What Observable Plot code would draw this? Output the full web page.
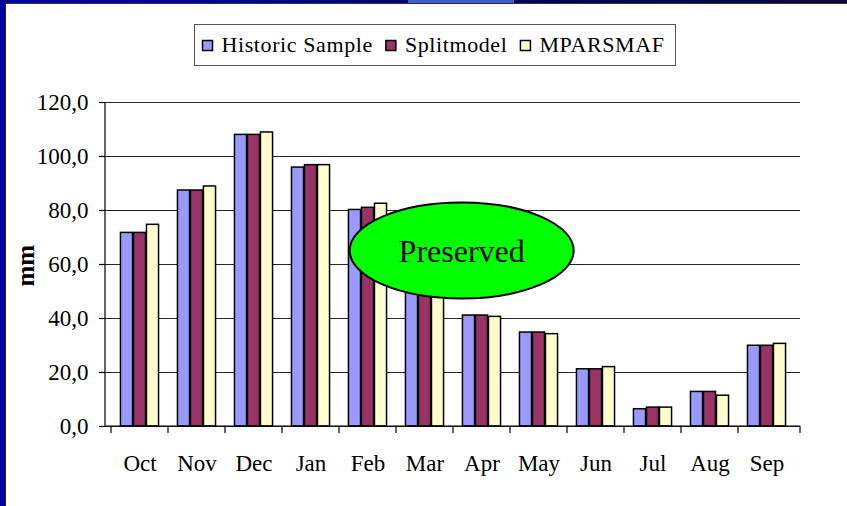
<!DOCTYPE html>
<html><head><meta charset="utf-8">
<script src="https://cdn.jsdelivr.net/npm/d3@7"></script>
<script src="https://cdn.jsdelivr.net/npm/@observablehq/plot@0.6"></script>
<style>
body{margin:0;background:#fff}
#page{position:relative;width:847px;height:506px;overflow:hidden;background:#fff}
#topbar{position:absolute;left:0;top:0;width:847px;height:3px;background:linear-gradient(to right,#0000a8 0%,#00009a 25%,#00006a 55%,#0a0a35 100%);border-bottom:1px solid #333}
#hl{position:absolute;left:408px;top:0;width:106px;height:3px;background:#3b5fd6}
#leftbar{position:absolute;left:0;top:0;width:5px;height:506px;background:#0000a8;border-right:1px solid #222}
#legend{position:absolute;left:194px;top:24px}
#chart{position:absolute;left:0;top:70px}
</style>
</head><body>
<div id="page">
  <div id="topbar"></div><div id="hl"></div><div id="leftbar"></div>
  <div id="legend"></div>
  <div id="chart"></div>
</div>
<script>
const months = ["Oct","Nov","Dec","Jan","Feb","Mar","Apr","May","Jun","Jul","Aug","Sep"];
const historic   = [71.7, 87.4, 108.0, 95.9, 80.2, 63.5, 41.1, 34.8, 21.2, 6.4, 12.8, 29.9];
const splitmodel = [71.7, 87.4, 108.0, 96.8, 81.0, 63.5, 41.1, 34.8, 21.2, 7.0, 12.8, 29.9];
const mparsmaf   = [74.7, 88.9, 108.9, 96.8, 82.5, 63.0, 40.6, 34.2, 22.0, 7.0, 11.4, 30.6];
const seriesNames  = ["Historic Sample", "Splitmodel", "MPARSMAF"];
const seriesColors = ["#9999FF", "#993366", "#FFFFCC"];
const yTicks = [0, 20, 40, 60, 80, 100, 120];
const yLabel = "mm";
const noteText = "Preserved";
const noteMonth = "Apr";
const noteValue = 65;

const seriesValues = [historic, splitmodel, mparsmaf];
const FONT = "Liberation Serif, Times New Roman, serif";

// legend (SVG)
const lw = 482, lh = 42;
const lsvg = d3.select("#legend").append("svg").attr("width", lw).attr("height", lh);
lsvg.append("rect").attr("x", 0.5).attr("y", 0.5).attr("width", lw - 1).attr("height", lh - 1)
  .attr("fill", "#fff").attr("stroke", "#555");
let lx = 8.5;
seriesNames.forEach((name, k) => {
  lsvg.append("rect").attr("x", lx).attr("y", 16.5).attr("width", 10).attr("height", 10)
    .attr("fill", seriesColors[k]).attr("stroke", "#000").attr("stroke-width", 1.5);
  const t = lsvg.append("text").attr("x", lx + 19).attr("y", 27.5).attr("fill", "#000")
    .attr("font-family", FONT).attr("font-size", 22)
    .attr("letter-spacing", 0.6).text(name);
  lx += 19 + t.node().getComputedTextLength() + 13;
});

const W = 847, H = 436, mL = 105, mR = 47, mT = 32, mB = 80;
const step = (W - mL - mR) / months.length;
const barW = 13;
const totalInset = step - barW;

const barMarks = seriesValues.map((vals, k) => {
  const left = totalInset / 2 + (k - 1) * barW;
  return Plot.barY(months, {
    x: d => d,
    y: (d, i) => vals[i],
    fill: seriesColors[k],
    stroke: "#000",
    strokeWidth: 1.5,
    insetLeft: left,
    insetRight: totalInset - left
  });
});

const axisLines = (index, scales, values, dims) => {
  const g = d3.create("svg:g").attr("stroke", "#000").attr("stroke-width", 1.2).attr("fill", "none");
  const x0 = dims.marginLeft, x1 = dims.width - dims.marginRight;
  const y0 = scales.y(0), yTop = scales.y(yTicks[yTicks.length - 1]);
  g.append("line").attr("x1", x0).attr("x2", x0).attr("y1", yTop).attr("y2", y0);
  g.append("line").attr("x1", x0).attr("x2", x1).attr("y1", y0).attr("y2", y0);
  const xs = months.map(m => scales.x(m)).concat([x1]);
  xs.forEach(x => g.append("line").attr("x1", x).attr("x2", x).attr("y1", y0).attr("y2", y0 + 7));
  return g.node();
};

const note = (index, scales, values, dims) => {
  const g = d3.create("svg:g");
  const cx = scales.x(noteMonth) + step * 0.15;
  const cy = scales.y(noteValue);
  g.append("ellipse").attr("cx", cx).attr("cy", cy).attr("rx", 112).attr("ry", 48)
    .attr("fill", "#00FF00").attr("stroke", "#000").attr("stroke-width", 2);
  g.append("text").attr("x", cx).attr("y", cy).attr("dy", "0.36em")
    .attr("text-anchor", "middle").attr("font-size", 32).attr("fill", "#000")
    .text(noteText);
  return g.node();
};

const chart = Plot.plot({
  width: W, height: H,
  marginLeft: mL, marginRight: mR, marginTop: mT, marginBottom: mB,
  style: {fontFamily: FONT, fontSize: "23px", color: "#000", background: "transparent"},
  x: {type: "band", domain: months, padding: 0},
  y: {domain: [0, 120]},
  marks: [
    Plot.gridY(yTicks, {stroke: "#000", strokeOpacity: 0.85, strokeWidth: 1}),
    ...barMarks,
    axisLines,
    Plot.axisY(yTicks, {tickSize: 6, tickPadding: 11, fontSize: 23, tickFormat: d => d.toFixed(1).replace(".", ","), label: null, stroke: "#000", strokeWidth: 1.2}),
    Plot.axisX({tickSize: 0, tickPadding: 28, fontSize: 23, label: null, letterSpacing: 1.2}),
    Plot.text([yLabel], {frameAnchor: "left", dx: -80, dy: 22, rotate: -90, fontWeight: "bold", fontSize: 25, letterSpacing: 4}),
    note
  ]
});
document.getElementById("chart").appendChild(chart);
</script>
</body></html>
